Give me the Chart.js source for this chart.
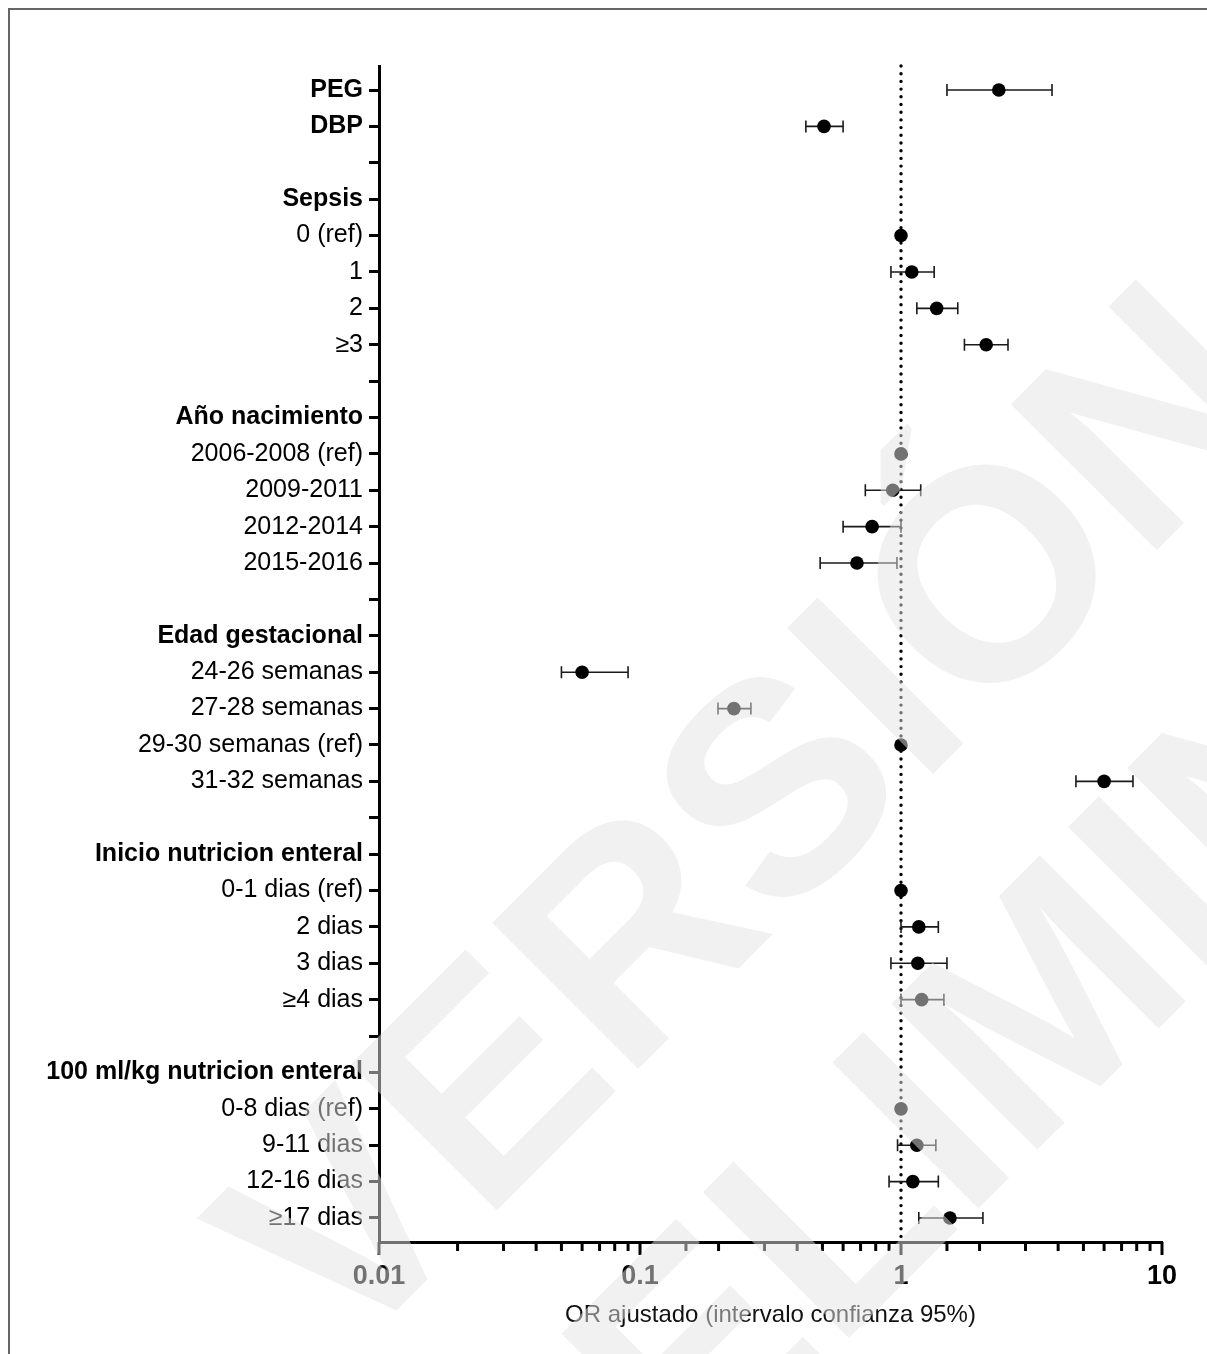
<!DOCTYPE html>
<html>
<head>
<meta charset="utf-8">
<script src="https://cdn.jsdelivr.net/npm/chart.js@4.4.0/dist/chart.umd.min.js"></script>
<style>
body { margin: 0; background: #fff; }
#frame { position: absolute; left: 8px; top: 8px; right: 0; bottom: 0; border-left: 2px solid #666; border-top: 2px solid #666; }
canvas { position: absolute; left: 0; top: 0; }
</style>
</head>
<body>
<div id="frame"></div>
<canvas id="forest" width="1207" height="1354"></canvas>
<script>
// rows from top to bottom, '' = blank spacer row
const rowLabels = ['PEG', 'DBP', '', 'Sepsis', '0 (ref)', '1', '2', '≥3', '',
  'Año nacimiento', '2006-2008 (ref)', '2009-2011', '2012-2014', '2015-2016', '',
  'Edad gestacional', '24-26 semanas', '27-28 semanas', '29-30 semanas (ref)', '31-32 semanas', '',
  'Inicio nutricion enteral', '0-1 dias (ref)', '2 dias', '3 dias', '≥4 dias', '',
  '100 ml/kg nutricion enteral', '0-8 dias (ref)', '9-11 dias', '12-16 dias', '≥17 dias'];
const headerRows = ['PEG', 'DBP', 'Sepsis', 'Año nacimiento', 'Edad gestacional',
  'Inicio nutricion enteral', '100 ml/kg nutricion enteral'];

const oddsRatio = [2.37, 0.507, null, null, 1, 1.10, 1.37, 2.12, null,
  null, 1, 0.93, 0.775, 0.678, null,
  null, 0.060, 0.229, 1, 6.0, null,
  null, 1, 1.17, 1.16, 1.20, null,
  null, 1, 1.15, 1.11, 1.54];
const ciLower = [1.50, 0.432, null, null, null, 0.915, 1.15, 1.75, null,
  null, null, 0.73, 0.60, 0.49, null,
  null, 0.050, 0.199, null, 4.68, null,
  null, null, 1.0, 0.915, 1.0, null,
  null, null, 0.97, 0.90, 1.17];
const ciUpper = [3.79, 0.60, null, null, null, 1.34, 1.65, 2.57, null,
  null, null, 1.19, 1.0, 0.965, null,
  null, 0.090, 0.266, null, 7.74, null,
  null, null, 1.39, 1.50, 1.46, null,
  null, null, 1.36, 1.39, 2.06];

const xTickValues = [0.01, 0.1, 1, 10];
const xTickLabels = ['0.01', '0.1', '1', '10'];

const FONT = '"Liberation Sans", Arial, Helvetica, sans-serif';

function decadeIndex(v) {
  return xTickValues.findIndex(t => Math.abs(t - v) < t * 1e-6);
}

const forestLines = {
  id: 'forestLines',
  beforeDatasetsDraw(chart) {
    const {ctx, chartArea, scales: {x, y}} = chart;
    ctx.save();
    // dotted line at OR = 1
    const x1 = x.getPixelForValue(1);
    ctx.strokeStyle = '#000';
    ctx.lineWidth = 3.4;
    ctx.lineCap = 'round';
    ctx.setLineDash([0, 7.7]);
    ctx.beginPath();
    ctx.moveTo(x1, chartArea.top);
    ctx.lineTo(x1, chartArea.bottom - 4);
    ctx.stroke();
    ctx.setLineDash([]);
    // confidence intervals
    ctx.lineCap = 'butt';
    ctx.lineWidth = 1.6;
    ctx.strokeStyle = '#1a1a1a';
    ciLower.forEach((lo, i) => {
      if (lo == null) return;
      const yy = y.getPixelForValue(i);
      const a = x.getPixelForValue(lo);
      const b = x.getPixelForValue(ciUpper[i]);
      ctx.beginPath();
      ctx.moveTo(a, yy); ctx.lineTo(b, yy);
      ctx.moveTo(a, yy - 6); ctx.lineTo(a, yy + 6);
      ctx.moveTo(b, yy - 6); ctx.lineTo(b, yy + 6);
      ctx.stroke();
    });
    ctx.restore();
  },
  afterDraw(chart) {
    const {ctx, scales: {x}} = chart;
    ctx.save();
    // x ticks, long at each decade
    ctx.strokeStyle = '#000';
    ctx.lineWidth = 3;
    x.ticks.forEach(t => {
      const px = x.getPixelForValue(t.value);
      const len = decadeIndex(t.value) >= 0 ? 13 : 9;
      ctx.beginPath();
      ctx.moveTo(px, x.top);
      ctx.lineTo(px, x.top + len);
      ctx.stroke();
    });
    // watermark
    ctx.fillStyle = 'rgba(228,228,228,0.5)';
    ctx.font = 'bold 300px ' + FONT;
    ctx.textAlign = 'center';
    ctx.textBaseline = 'middle';
    ctx.save();
    ctx.translate(760, 830);
    ctx.rotate(-45 * Math.PI / 180);
    ctx.fillText('VERSIÓN', 0, 0);
    ctx.restore();
    ctx.save();
    ctx.translate(1000, 1070);
    ctx.rotate(-45 * Math.PI / 180);
    ctx.fillText('PRELIMINAR', 0, 0);
    ctx.restore();
    ctx.restore();
  }
};

const points = oddsRatio.map((v, i) => ({x: v, y: i})).filter(p => p.x != null);

new Chart(document.getElementById('forest'), {
  type: 'scatter',
  data: {
    datasets: [{
      data: points,
      backgroundColor: '#000',
      borderWidth: 0,
      pointRadius: 6.8,
      pointHoverRadius: 6.8
    }]
  },
  options: {
    responsive: false,
    animation: false,
    devicePixelRatio: 1,
    layout: {padding: {top: 66, right: 45, left: 0, bottom: 0}},
    plugins: {legend: {display: false}, tooltip: {enabled: false}},
    scales: {
      x: {
        type: 'logarithmic',
        min: 0.01,
        max: 10,
        grid: {display: false, drawTicks: false},
        border: {display: true, color: '#000', width: 3},
        ticks: {
          autoSkip: false,
          maxRotation: 0,
          padding: 18,
          color: '#000',
          font: {family: FONT, size: 27, weight: 'bold'},
          callback: v => {
            const k = decadeIndex(v);
            return k < 0 ? '' : xTickLabels[k];
          }
        },
        title: {
          display: true,
          text: 'OR ajustado (intervalo confianza 95%)',
          color: '#111',
          font: {family: FONT, size: 24},
          padding: {top: 0, bottom: 24}
        },
        afterFit: s => { s.height = 112; }
      },
      y: {
        type: 'linear',
        reverse: true,
        min: -0.66,
        max: 31.66,
        afterBuildTicks: s => { s.ticks = rowLabels.map((_, i) => ({value: i})); },
        grid: {drawOnChartArea: false, drawTicks: true, tickLength: 10, lineWidth: 3, color: '#000'},
        border: {display: true, color: '#000', width: 3},
        ticks: {
          autoSkip: false,
          padding: 6,
          color: '#000',
          font: c => ({family: FONT, size: 25,
            weight: headerRows.includes(rowLabels[c.tick && c.tick.value]) ? 'bold' : 'normal'}),
          callback: v => rowLabels[v]
        },
        afterFit: s => { s.width = 379; }
      }
    }
  },
  plugins: [forestLines]
});
</script>
</body>
</html>
